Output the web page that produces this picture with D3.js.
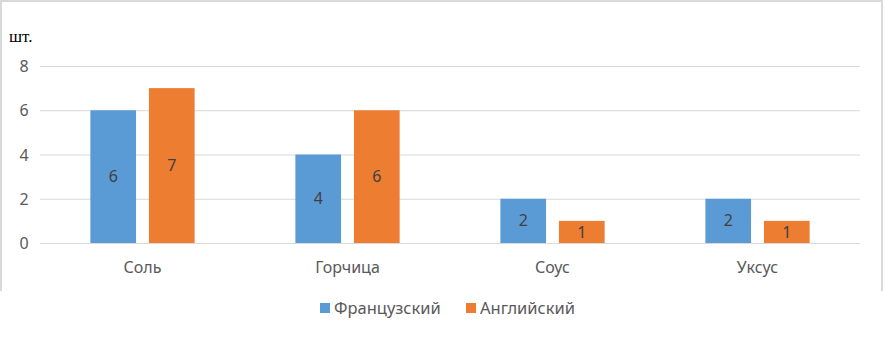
<!DOCTYPE html>
<html>
<head>
<meta charset="utf-8">
<script src="https://cdnjs.cloudflare.com/ajax/libs/d3/7.8.5/d3.min.js"></script>
<style>
body { margin: 0; background: #fff; }
svg { display: block; }
</style>
</head>
<body>
<svg width="885" height="339"></svg>
<script>
var categories = ["Соль", "Горчица", "Соус", "Уксус"]
var seriesNames = ["Французский", "Английский"]
var french = [6, 4, 2, 2]
var english = [7, 6, 1, 1]
var yTicks = [0, 2, 4, 6, 8]
var colors = ["#5B9BD5", "#ED7D31"]
var font = "'Noto Sans', 'Open Sans', sans-serif"

var svg = d3.select("svg")

// frame (cut off at bottom)
svg.append("path")
	.attr("d", "M1,291 V1 H882 V291")
	.attr("fill", "none").attr("stroke", "#D9D9D9").attr("stroke-width", 2)

var x0 = d3.scaleBand().domain(categories).range([40, 860]).padding(0)
var x1 = d3.scaleBand().domain(seriesNames).range([0, x0.bandwidth()])
	.paddingInner(0.22).paddingOuter(0.86)
var y = d3.scaleLinear().domain([0, 8]).range([243, 66])

// gridlines
svg.append("g").selectAll("line").data(yTicks).enter().append("line")
	.attr("x1", 40).attr("x2", 860)
	.attr("y1", function(d) { return y(d) + 0.5 }).attr("y2", function(d) { return y(d) + 0.5 })
	.attr("stroke", "#D9D9D9").attr("stroke-width", 1)

// y axis labels
var yAxis = d3.axisLeft(y).tickValues(yTicks).tickSize(0).tickPadding(0)
var gy = svg.append("g").attr("transform", "translate(24,0)").call(yAxis)
gy.select(".domain").remove()
gy.selectAll("text").attr("font-family", font).attr("font-size", 16)
	.attr("fill", "#595959").attr("text-anchor", "middle").attr("dy", "0.35em")

// unit label
svg.append("text").attr("x", 9).attr("y", 42).text("шт.")
	.attr("font-family", "'Liberation Serif', serif")
	.attr("font-size", 17).attr("fill", "#000")

var rows = categories.map(function(c, i) {
	return { cat: c, vals: [french[i], english[i]] }
})

var groups = svg.append("g").selectAll("g").data(rows).enter().append("g")
	.attr("transform", function(d) { return "translate(" + x0(d.cat) + ",0)" })

var bars = groups.selectAll("g").data(function(d) {
	return d.vals.map(function(v, j) { return { name: seriesNames[j], v: v, j: j } })
}).enter().append("g")

bars.append("rect")
	.attr("x", function(d) { return x1(d.name) })
	.attr("width", x1.bandwidth())
	.attr("y", function(d) { return y(d.v) })
	.attr("height", function(d) { return y(0) - y(d.v) })
	.attr("fill", function(d) { return colors[d.j] })

bars.append("text")
	.attr("x", function(d) { return x1(d.name) + x1.bandwidth() / 2 })
	.attr("y", function(d) { return (y(d.v) + y(0)) / 2 })
	.attr("dy", "0.35em").attr("text-anchor", "middle")
	.attr("font-family", font).attr("font-size", 16).attr("fill", "#404040")
	.text(function(d) { return d.v })

// x axis labels
var xAxis = d3.axisBottom(x0).tickSize(0).tickPadding(0)
var gx = svg.append("g").attr("transform", "translate(0,267)").call(xAxis)
gx.select(".domain").remove()
gx.selectAll("text").attr("font-family", font).attr("font-size", 16)
	.attr("fill", "#595959").attr("dy", "0.35em")

// legend
var legend = svg.append("g")
var lx = [320, 466]
seriesNames.forEach(function(n, i) {
	legend.append("rect").attr("x", lx[i]).attr("y", 303).attr("width", 10).attr("height", 10)
		.attr("fill", colors[i])
	legend.append("text").attr("x", lx[i] + 14).attr("y", 308).attr("dy", "0.35em")
		.attr("font-family", font).attr("font-size", 16.5).attr("fill", "#595959").text(n)
})
</script>
</body>
</html>
